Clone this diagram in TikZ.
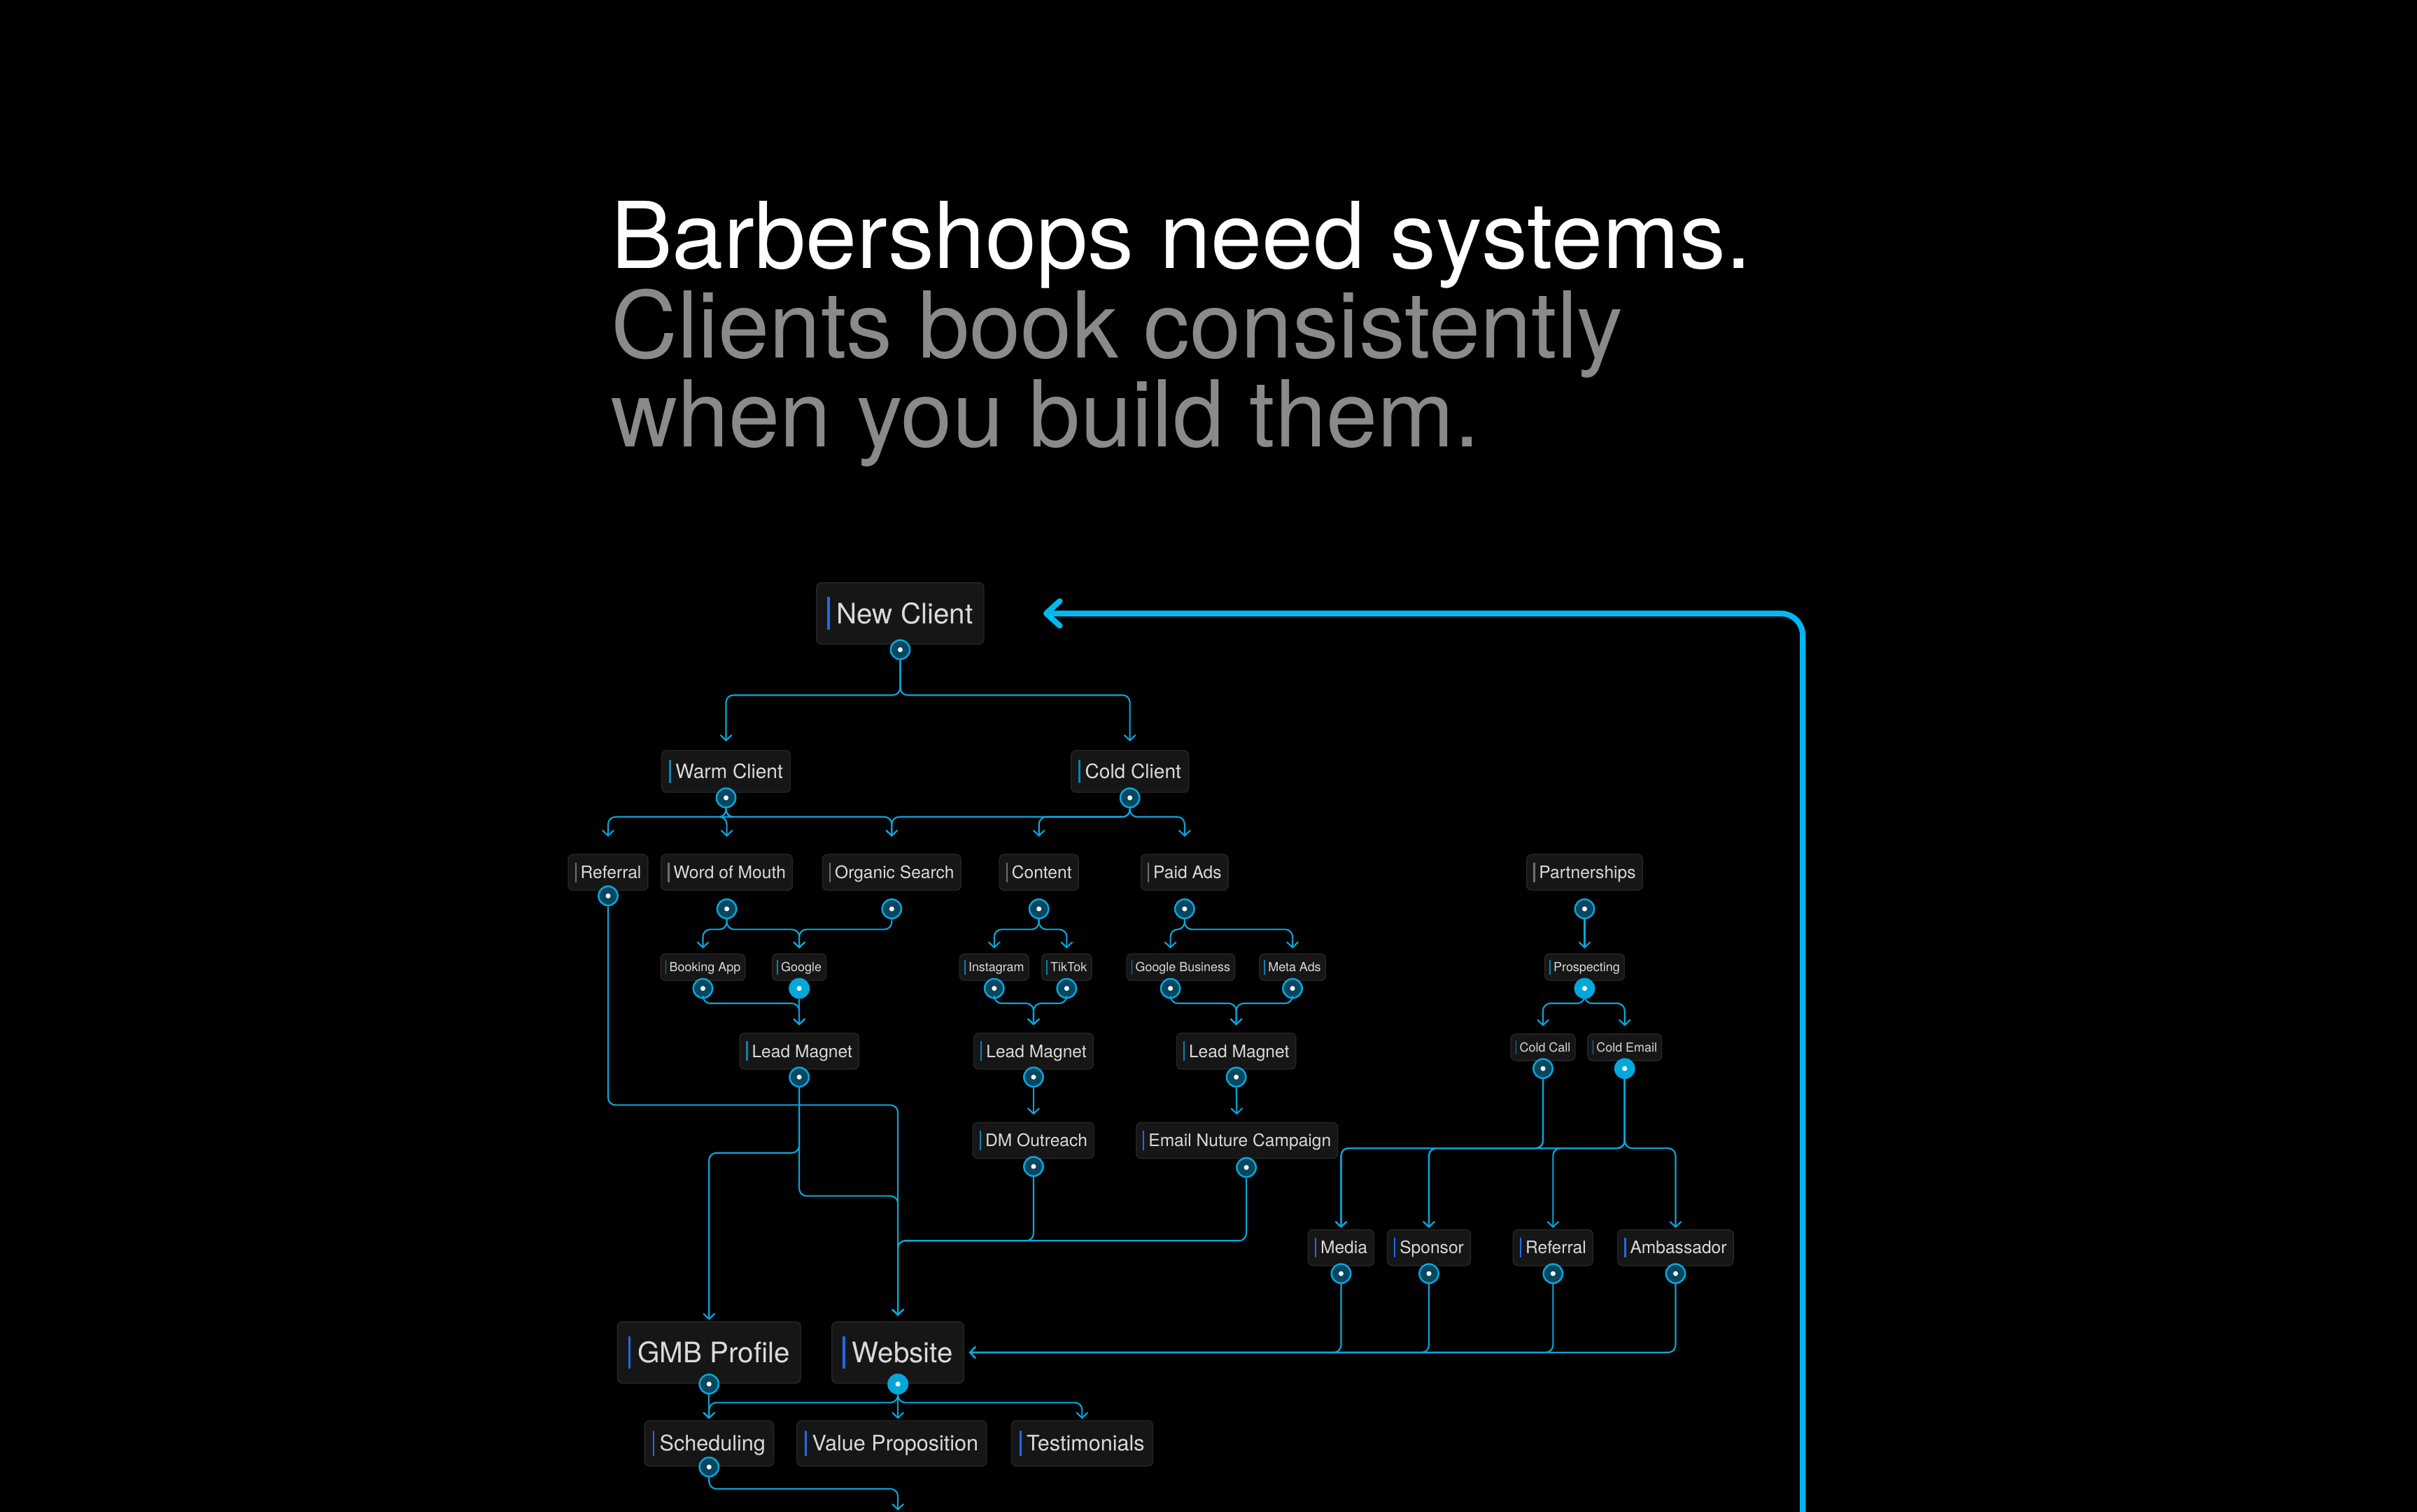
\documentclass[tikz,border=0pt]{standalone}
\usepackage{fontspec}
\setmainfont{TeX Gyre Heros}
\usetikzlibrary{arrows.meta,positioning}
\definecolor{boxfill}{HTML}{161616}
\definecolor{boxline}{HTML}{262626}
\definecolor{labeltxt}{HTML}{DADADA}
\definecolor{flowcyan}{HTML}{0AA6DB}
\definecolor{loopcyan}{HTML}{00B9F2}
\definecolor{portdark}{HTML}{07475F}
\definecolor{portlit}{HTML}{03A7DA}
\definecolor{barblue}{HTML}{1F6AEB}
\definecolor{barteal}{HTML}{0C80B4}
\definecolor{bargray}{HTML}{707070}
\definecolor{subgray}{HTML}{8A8A8A}

% coloured tick in front of every label
\newcommand{\lbl}[2]{\textcolor{#1}{\rule[-0.22em]{0.09em}{1.15em}}\hspace{0.24em}#2}

\begin{document}
\begin{tikzpicture}[
  x=0.022028cm, y=-0.022028cm,
  box/.style={fill=boxfill, draw=boxline, line width=0.4pt, rounded corners=2pt,
              text=labeltxt, inner ysep=0pt},
  xl/.style={box, font=\fontsize{11.5pt}{13pt}\selectfont, inner xsep=4.4pt, minimum height=25pt},
  lg/.style={box, font=\fontsize{8.7pt}{10pt}\selectfont, inner xsep=3.3pt, minimum height=18.5pt},
  ml/.style={box, font=\fontsize{8pt}{9.5pt}\selectfont, inner xsep=3pt, minimum height=17pt},
  md/.style={box, font=\fontsize{7pt}{8.5pt}\selectfont, inner xsep=2.7pt, minimum height=14.6pt},
  sm/.style={box, font=\fontsize{5.1pt}{6pt}\selectfont, inner xsep=1.9pt, minimum height=10.8pt},
  headline/.style={anchor=base west, inner sep=0pt, font=\fontsize{37.5pt}{36pt}\selectfont},
  port/.style={circle, draw=flowcyan, line width=0.7pt, fill=portdark,
               minimum size=7.8pt, inner sep=0pt,
               path picture={\fill[white] (path picture bounding box.center) circle (1pt);}},
  lit/.style={port, fill=portlit},
  link/.style={draw=flowcyan, line width=0.6pt, rounded corners=3pt},
  flow/.style={link, -{Straight Barb[length=2.2pt,width=4.6pt]}, shorten >=2.5pt},
  backloop/.style={draw=loopcyan, line width=2.3pt, rounded corners=9pt,
                   -{Straight Barb[length=5.5pt,width=10pt,round]}},
]
\path[use as bounding box, fill=black] (0,0) rectangle (1568,981);

%% Headline
\node[headline, text=white] (head1) at (396,174) {Barbershops need systems.};
\node[headline, text=subgray] (head2) at (396,232) {Clients book consistently};
\node[headline, text=subgray] (head3) at (396,290) {when you build them.};

%% Entry
\node[xl] (nc) at (584,398) {\lbl{barblue}{New Client}};
\node[ml] (warm) at (471,500.5) {\lbl{barteal}{Warm Client}};
\node[ml] (cold) at (733,500.5) {\lbl{barteal}{Cold Client}};

%% Channels
\node[md] (ref)  at (394.5,566) {\lbl{bargray}{Referral}};
\node[md] (wom)  at (471.5,566) {\lbl{bargray}{Word of Mouth}};
\node[md] (org)  at (578.5,566) {\lbl{bargray}{Organic Search}};
\node[md] (cont) at (674,566)   {\lbl{bargray}{Content}};
\node[md] (paid) at (768.5,566) {\lbl{bargray}{Paid Ads}};
\node[md] (part) at (1028,566)  {\lbl{bargray}{Partnerships}};

%% Platforms
\node[sm] (book)  at (456,627.5)   {\lbl{barteal}{Booking App}};
\node[sm] (goog)  at (518.5,627.5) {\lbl{barteal}{Google}};
\node[sm] (insta) at (645,627.5)   {\lbl{barteal}{Instagram}};
\node[sm] (tik)   at (692,627.5)   {\lbl{barteal}{TikTok}};
\node[sm] (gbiz)  at (766,627.5)   {\lbl{barteal}{Google Business}};
\node[sm] (meta)  at (838.5,627.5) {\lbl{barteal}{Meta Ads}};
\node[sm] (pros)  at (1028,627.5)  {\lbl{barteal}{Prospecting}};

%% Lead magnets, outreach
\node[md] (lm1) at (518.5,682) {\lbl{barteal}{Lead Magnet}};
\node[md] (lm2) at (670.5,682) {\lbl{barteal}{Lead Magnet}};
\node[md] (lm3) at (802,682)   {\lbl{barteal}{Lead Magnet}};
\node[sm] (call)  at (1001,679.5) {\lbl{barteal}{Cold Call}};
\node[sm] (email) at (1054,679.5) {\lbl{barteal}{Cold Email}};
\node[md] (dm)  at (670.5,740) {\lbl{barteal}{DM Outreach}};
\node[md] (enc) at (802.5,740) {\lbl{barblue}{Email Nuture Campaign}};

%% Partners
\node[md] (media) at (870,809.5)  {\lbl{barblue}{Media}};
\node[md] (spon)  at (927,809.5)  {\lbl{barblue}{Sponsor}};
\node[md] (ref2)  at (1007.5,809.5) {\lbl{barblue}{Referral}};
\node[md] (amb)   at (1087,809.5) {\lbl{barblue}{Ambassador}};

%% Destinations
\node[xl] (gmb) at (460,877.5)   {\lbl{barblue}{GMB Profile}};
\node[xl] (web) at (582.5,877.5) {\lbl{barblue}{Website}};
\node[lg] (sched) at (460,936.5) {\lbl{barblue}{Scheduling}};
\node[lg] (vp)    at (578.5,936.5) {\lbl{barblue}{Value Proposition}};
\node[lg] (test)  at (702,936.5) {\lbl{barblue}{Testimonials}};

%% Ports
\foreach \nd in {nc,warm,cold,ref}
  \node[port, below=-2.2pt of \nd] (\nd-p) {};
\foreach \nd in {book,insta,tik,meta,lm1,lm2,lm3,call,dm,media,spon,ref2,amb}
  \node[port, below=-1.2pt of \nd] (\nd-p) {};
\foreach \nd in {wom,org,cont,paid,part}
  \node[port, below=3.1pt of \nd] (\nd-p) {};
\foreach \nd in {gmb,sched}
  \node[port, below=-4.1pt of \nd] (\nd-p) {};
\node[lit, below=-4.1pt of web] (web-p) {};
\node[lit, below=-1.2pt of goog] (goog-p) {};
\node[lit, below=-1.2pt of pros] (pros-p) {};
\node[lit, below=-1.2pt of email] (email-p) {};
\node[port, below=-1.2pt of gbiz, xshift=-4.2pt] (gbiz-p) {};
\node[port, below=-0.8pt of enc, xshift=3.8pt] (enc-p) {};

%% New client split
\foreach \dst in {warm,cold}
  \draw[flow, shorten >=3.5pt] (nc-p.south) -- (nc-p |- 0,451) -| (\dst.north);

%% Warm / cold to channels
\foreach \dst in {ref,wom,org}
  \draw[flow, shorten >=7pt] (warm-p.south) -- (warm-p |- 0,530) -| (\dst.north);
\foreach \dst in {org,cont,paid}
  \draw[flow, shorten >=7pt] (cold-p.south) -- (cold-p |- 0,530) -| (\dst.north);

%% Channels to platforms
\foreach \dst in {book,goog}
  \draw[flow, shorten >=2pt] (wom-p.south) -- (wom-p |- 0,603) -| (\dst.north);
\draw[flow, shorten >=2pt] (org-p.south) -- (org-p |- 0,603) -| (goog.north);
\foreach \dst in {insta,tik}
  \draw[flow, shorten >=2pt] (cont-p.south) -- (cont-p |- 0,603) -| (\dst.north);
\draw[flow, shorten >=2pt] (paid-p.south) -- (paid-p |- 0,603) -| (gbiz-p |- gbiz.north);
\draw[flow, shorten >=2pt] (paid-p.south) -- (paid-p |- 0,603) -| (meta.north);
\draw[flow, shorten >=2pt] (part-p.south) -- (pros.north);

%% Platforms to lead magnets
\draw[flow, shorten >=3pt] (book-p.south) -- (book-p |- 0,651) -| (lm1.north);
\draw[flow, shorten >=3pt] (goog-p.south) -- (lm1.north);
\foreach \src in {insta,tik}
  \draw[flow, shorten >=3pt] (\src-p.south) -- (\src-p |- 0,651) -| (lm2.north);
\foreach \src in {gbiz,meta}
  \draw[flow, shorten >=3pt] (\src-p.south) -- (\src-p |- 0,651) -| (lm3.north);
\foreach \dst in {call,email}
  \draw[flow, shorten >=3pt] (pros-p.south) -- (pros-p |- 0,651) -| (\dst.north);

%% Lead magnets to outreach
\draw[flow, shorten >=3pt] (lm2-p.south) -- (dm.north);
\draw[flow, shorten >=3pt] (lm3-p.south) -- (enc.north);

%% Prospecting to partners
\foreach \dst in {media,spon}
  \draw[flow, shorten >=0.5pt] (call-p.south) -- (call-p |- 0,745) -| (\dst.north);
\foreach \dst in {media,spon,ref2,amb}
  \draw[flow, shorten >=0.5pt] (email-p.south) -- (email-p |- 0,745) -| (\dst.north);

%% Into GMB and website
\draw[flow, shorten >=2.2pt] (ref-p.south) -- (ref-p |- 0,717) -| (web.north);
\draw[flow, shorten >=0.5pt] (lm1-p.south) -- (lm1-p |- 0,748) -| (gmb.north);
\draw[flow, shorten >=2.2pt] (lm1-p.south) -- (lm1-p |- 0,776) -| (web.north);
\foreach \src in {dm,enc}
  \draw[flow, shorten >=2.2pt] (\src-p.south) -- (\src-p |- 0,805) -| (web.north);
\foreach \src in {media,spon,ref2,amb}
  \draw[flow, shorten >=1.9pt] (\src-p.south) |- (web.east);

%% Website details
\draw[flow, shorten >=0.5pt] (gmb-p.south) -- (sched.north);
\foreach \dst in {sched,test}
  \draw[flow, shorten >=0.5pt] (web-p.south) -- (web-p |- 0,910) -| (\dst.north);
\draw[flow, shorten >=0.5pt] (web-p.south) -- (web-p |- vp.north);

%% Booking, off the bottom edge
\coordinate (booked) at (582.5,980);
\draw[flow, shorten >=0pt] (sched-p.south) -- (sched-p |- 0,966) -| (booked);

%% Loop back to new client
\coordinate (loopfoot) at (1169.5,1000);
\draw[backloop, shorten >=24pt] (loopfoot) |- (nc.east);

\end{tikzpicture}
\end{document}
